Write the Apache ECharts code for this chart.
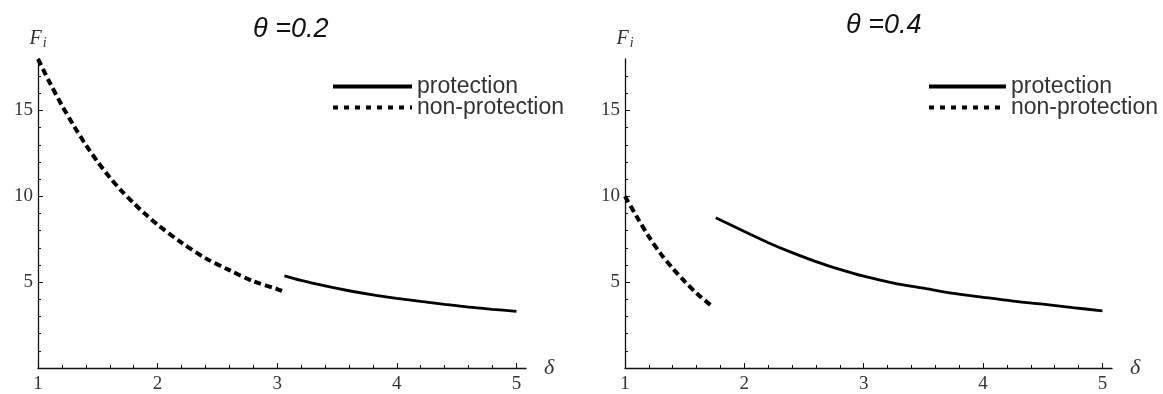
<!DOCTYPE html>
<html>
<head>
<meta charset="utf-8">
<script src="https://cdn.jsdelivr.net/npm/echarts@6/dist/echarts.min.js"></script>
<style>
  html, body { margin: 0; padding: 0; background: #fff; }
  #chart { width: 1163px; height: 394px; }
</style>
</head>
<body>
<div id="chart"></div>
<script>
// panel titles and legend names
var titles = ['θ =0.2', 'θ =0.4'];
var legendNames = ['protection', 'non-protection'];

// tick labels
var xMajorTicks = [1, 2, 3, 4, 5];
var xMinorTicks = [1.2, 1.4, 1.6, 1.8, 2.2, 2.4, 2.6, 2.8, 3.2, 3.4, 3.6, 3.8, 4.2, 4.4, 4.6, 4.8];
var yMajorTicks = [5, 10, 15];
var yMinorTicks = [1, 2, 3, 4, 6, 7, 8, 9, 11, 12, 13, 14, 16, 17];

// theta = 0.2 : [delta, F_i]
var nonProt02 = [
    [1.00, 18.0], [1.10, 16.6], [1.20, 15.3], [1.30, 14.1], [1.40, 13.0],
    [1.50, 12.0], [1.60, 11.1], [1.70, 10.3], [1.80, 9.6], [1.90, 8.95],
    [2.00, 8.35], [2.20, 7.3], [2.40, 6.4], [2.60, 5.7], [2.80, 5.05],
    [3.00, 4.6], [3.07, 4.4]
];
var prot02 = [
    [3.06, 5.37], [3.2, 5.1], [3.4, 4.78], [3.6, 4.5], [3.8, 4.26], [4.0, 4.06],
    [4.2, 3.88], [4.4, 3.71], [4.6, 3.55], [4.8, 3.42], [5.0, 3.30]
];

// theta = 0.4
var nonProt04 = [
    [1.0, 10.0], [1.1, 8.8], [1.2, 7.65], [1.3, 6.65], [1.4, 5.8],
    [1.5, 5.05], [1.6, 4.35], [1.72, 3.65]
];
var prot04 = [
    [1.76, 8.75], [2.0, 7.95], [2.2, 7.3], [2.4, 6.72], [2.6, 6.2], [2.8, 5.75],
    [3.0, 5.35], [3.25, 4.95], [3.5, 4.65], [3.75, 4.35], [4.0, 4.12],
    [4.25, 3.9], [4.5, 3.72], [4.75, 3.52], [5.0, 3.33]
];

var serif = 'Liberation Serif';
var sans = 'Liberation Sans';

function majorX(grid) {
    return {
        type: 'value', gridIndex: grid, position: 'bottom', min: 1, max: 5.08,
        name: 'δ', nameLocation: 'end', nameGap: 18,
        nameTextStyle: { fontFamily: serif, fontStyle: 'italic', fontSize: 22, color: '#333' },
        axisLine: { onZero: false, lineStyle: { color: '#111', width: 1.3 } },
        axisTick: { inside: true, length: 5, customValues: xMajorTicks, lineStyle: { color: '#111' } },
        axisLabel: { customValues: xMajorTicks, margin: 7, fontFamily: serif, fontSize: 19, color: '#333' },
        splitLine: { show: false }
    };
}
function minorX(grid) {
    return {
        type: 'value', gridIndex: grid, position: 'bottom', min: 1, max: 5.08,
        axisLine: { show: false, onZero: false },
        axisTick: { inside: true, length: 3, customValues: xMinorTicks, lineStyle: { color: '#111' } },
        axisLabel: { show: false },
        splitLine: { show: false }
    };
}
function majorY(grid) {
    return {
        type: 'value', gridIndex: grid, position: 'left', min: 0, max: 18,
        name: '{F|F}{s|i}', nameLocation: 'end', nameGap: 9,
        nameTextStyle: {
            rich: {
                F: { fontFamily: serif, fontStyle: 'italic', fontSize: 20, color: '#333' },
                s: { fontFamily: serif, fontStyle: 'italic', fontSize: 14, color: '#333', padding: [9, 0, 0, 1] }
            }
        },
        axisLine: { onZero: false, lineStyle: { color: '#111', width: 1.3 } },
        axisTick: { inside: true, length: 5, customValues: yMajorTicks, lineStyle: { color: '#111' } },
        axisLabel: { customValues: yMajorTicks, margin: 5, fontFamily: serif, fontSize: 19, color: '#333' },
        splitLine: { show: false }
    };
}
function minorY(grid) {
    return {
        type: 'value', gridIndex: grid, position: 'left', min: 0, max: 18,
        axisLine: { show: false, onZero: false },
        axisTick: { inside: true, length: 3, customValues: yMinorTicks, lineStyle: { color: '#111' } },
        axisLabel: { show: false },
        splitLine: { show: false }
    };
}
function curve(name, data, axis, dashed) {
    return {
        name: name, type: 'line', xAxisIndex: axis, yAxisIndex: axis,
        data: data, showSymbol: false, symbol: 'none', smooth: 0.3,
        lineStyle: dashed
            ? { color: '#000', width: 4, type: [7, 4] }
            : { color: '#000', width: 2.8 },
        itemStyle: { color: '#000' }
    };
}
function legendAt(left, w) {
    return {
        data: [
            { name: legendNames[0], lineStyle: { width: 4, type: 'solid' } },
            { name: legendNames[1], lineStyle: { width: 4, type: [5, 6] } }
        ],
        orient: 'vertical', left: left, top: 75, padding: 0,
        itemWidth: w, itemHeight: 14, itemGap: -2,
        itemStyle: { color: 'rgba(0,0,0,0)', borderColor: 'rgba(0,0,0,0)', borderWidth: 0 },
        textStyle: { fontFamily: sans, fontSize: 23, color: '#333' }
    };
}

var myChart = echarts.init(document.getElementById('chart'));
var option = {
    backgroundColor: '#fff',
    animation: false,
    title: [
        { text: titles[0], left: 248, top: 11,
          textStyle: { fontFamily: sans, fontStyle: 'italic', fontWeight: 'normal', fontSize: 27, color: '#111' } },
        { text: titles[1], left: 841, top: 7,
          textStyle: { fontFamily: sans, fontStyle: 'italic', fontWeight: 'normal', fontSize: 27, color: '#111' } }
    ],
    legend: [legendAt(331, 79), legendAt(927, 77)],
    grid: [
        { left: 38, top: 59, width: 488, height: 310 },
        { left: 625, top: 59, width: 487, height: 309 }
    ],
    xAxis: [majorX(0), minorX(0), majorX(1), minorX(1)],
    yAxis: [majorY(0), minorY(0), majorY(1), minorY(1)],
    series: [
        curve('protection', prot02, 0, false),
        curve('non-protection', nonProt02, 0, true),
        curve('protection', prot04, 2, false),
        curve('non-protection', nonProt04, 2, true)
    ]
};
myChart.setOption(option);
</script>
</body>
</html>
